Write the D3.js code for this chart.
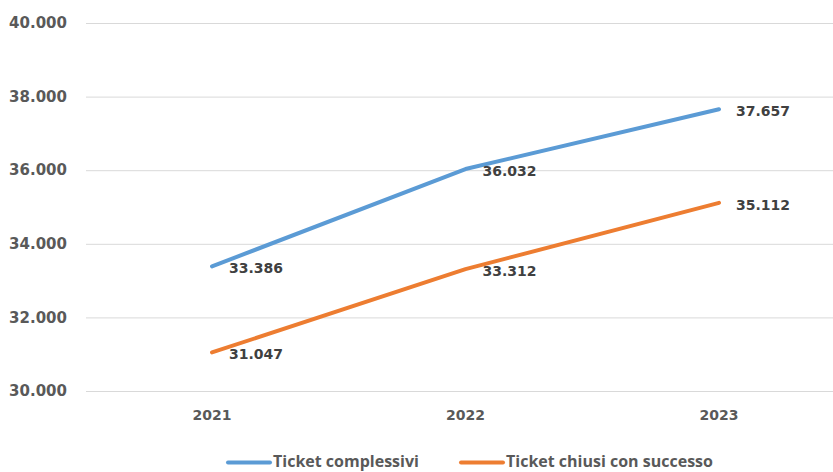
<!DOCTYPE html>
<html><head><meta charset="utf-8">
<script src="https://cdn.jsdelivr.net/npm/d3@7"></script>
<style>body{margin:0;background:#fff}svg{display:block}</style>
</head><body>
<svg id="c" width="833" height="472"></svg>
<script>
const years = ["2021","2022","2023"];
const seriesNames = ["Ticket complessivi","Ticket chiusi con successo"];
const totalTickets = [33386, 36032, 37657];
const closedTickets = [31047, 33312, 35112];
const yTicks = [30000, 32000, 34000, 36000, 38000, 40000];
const colors = ["#5b9bd5", "#ed7d31"];

const svg = d3.select("#c");
const fmt = v => d3.format(",")(v).replace(/,/g, ".");
const x = d3.scalePoint().domain(years).range([212, 719]);
const y = d3.scaleLinear().domain([30000, 40000]).range([391, 23]);

// gridlines
svg.append("g").selectAll("line").data(yTicks).join("line")
  .attr("x1", 86).attr("x2", 833)
  .attr("y1", d => y(d) + 0.5).attr("y2", d => y(d) + 0.5)
  .attr("stroke", "#d9d9d9").attr("stroke-width", 1);

const axisFont = "'DejaVu Sans', Verdana, sans-serif";
svg.append("g").selectAll("text").data(yTicks).join("text")
  .attr("x", 67).attr("y", d => y(d)).attr("dy", "0.35em")
  .attr("text-anchor", "end").attr("font-family", axisFont)
  .attr("font-size", 15).attr("font-weight", "bold").attr("fill", "#595959")
  .text(fmt);

svg.append("g").selectAll("text").data(years).join("text")
  .attr("x", d => x(d)).attr("y", 415).attr("dy", "0.35em")
  .attr("text-anchor", "middle").attr("font-family", axisFont)
  .attr("font-size", 14).attr("font-weight", "bold").attr("fill", "#595959")
  .text(d => d);

const series = [totalTickets, closedTickets];
const line = d3.line().x((d, i) => x(years[i])).y(d => y(d));
series.forEach((s, k) => {
  svg.append("path").datum(s).attr("d", line)
    .attr("fill", "none").attr("stroke", colors[k]).attr("stroke-width", 4)
    .attr("stroke-linecap", "round").attr("stroke-linejoin", "round");
  svg.append("g").selectAll("text").data(s).join("text")
    .attr("x", (d, i) => x(years[i]) + 17).attr("y", d => y(d) + 2).attr("dy", "0.35em")
    .attr("font-family", axisFont).attr("font-size", 14).attr("font-weight", "bold")
    .attr("fill", "#404040").text(fmt);
});

// legend
const legX = [228, 461];
seriesNames.forEach((n, k) => {
  svg.append("line").attr("x1", legX[k]).attr("x2", legX[k] + 42)
    .attr("y1", 462.5).attr("y2", 462.5).attr("stroke", colors[k]).attr("stroke-width", 4)
    .attr("stroke-linecap", "round");
  svg.append("text").attr("x", legX[k] + 45).attr("y", 467)
    .attr("font-family", "'Open Sans', sans-serif").attr("font-size", 16).attr("font-weight", "bold")
    .attr("fill", "#595959").text(n);
});
</script>
</body></html>
